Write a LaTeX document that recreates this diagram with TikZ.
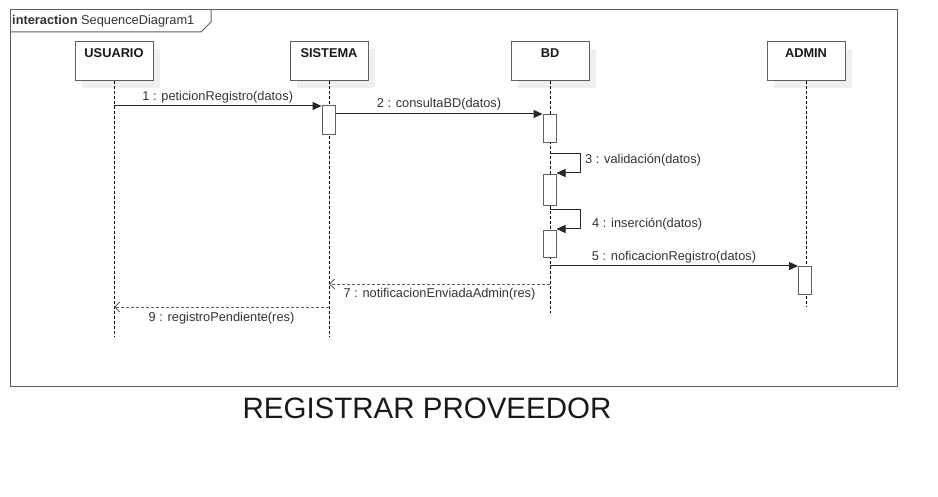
\documentclass[tikz,border=0pt]{standalone}
\usepackage{fontspec}
\setmainfont{Liberation Sans}
\usetikzlibrary{arrows.meta,positioning,calc,shadows}
\definecolor{linegray}{HTML}{5F5F5F}
\definecolor{txtgray}{HTML}{333333}
\definecolor{shadowgray}{HTML}{EFEFEF}

\begin{document}
\begin{tikzpicture}[x=1pt, y=-1pt,
    frame/.style={draw=linegray, line width=1pt},
    head/.style={rectangle, draw=linegray, fill=white, line width=1pt, minimum width=78pt, minimum height=39pt,
        drop shadow={shadow xshift=7pt, shadow yshift=-7pt, fill=shadowgray, opacity=1}},
    headtxt/.style={font=\fontsize{12.8}{14}\selectfont\bfseries, text=black!90},
    act/.style={rectangle, draw=linegray, fill=white, line width=1pt, minimum width=13pt, anchor=north},
    lifeline/.style={draw=black, line width=0.8pt, dash pattern=on 3pt off 2pt},
    msg/.style={draw=linegray, line width=1pt, -{Triangle[length=9pt, width=8pt]}, black!85},
    reply/.style={draw=linegray, line width=0.9pt, dash pattern=on 3pt off 2pt, -{Straight Barb[length=5pt, width=10pt]}},
    lbl/.style={font=\fontsize{12.8}{14}\selectfont, text=txtgray, inner sep=2pt}
]
\useasboundingbox (0,0) rectangle (938,497);

% Frame
\draw[frame] (10,10) rectangle (897,386);
\draw[frame] (10,32) -- (201,32) -- (211,22) -- (211,10);
\node[lbl, anchor=west, inner sep=0pt] (tab) at (12,21) {\textbf{interaction} SequenceDiagram1};

% Lifelines
\node[head, label={[headtxt, anchor=north, yshift=-4pt]north:USUARIO}] (usr) at (114,61.5) {};
\node[head, label={[headtxt, anchor=north, yshift=-4pt]north:SISTEMA}] (sis) at (329,61.5) {};
\node[head, label={[headtxt, anchor=north, yshift=-4pt]north:BD}] (bd) at (550,61.5) {};
\node[head, label={[headtxt, anchor=north, yshift=-4pt]north:ADMIN}] (adm) at (806,61.5) {};

\coordinate (usrEnd) at (114,337);
\coordinate (sisEnd) at (329,337);
\coordinate (bdEnd) at (550,313);
\coordinate (admEnd) at (806,307);
\draw[lifeline] (usr.south) -- (usrEnd);
\draw[lifeline] (sis.south) -- (sisEnd);
\draw[lifeline] (bd.south) -- (bdEnd);
\draw[lifeline] (adm.south) -- (admEnd);

% Activations
\node[act, minimum height=29pt] (actS) at (328.5,105) {};
\node[act, minimum height=28pt] (actB1) at (549.5,114) {};
\node[act, minimum height=31pt] (actB2) at (549.5,174) {};
\node[act, minimum height=27pt] (actB3) at (549.5,230) {};
\node[act, minimum height=28pt] (actA) at (805,266) {};

% Messages
\coordinate (m1) at (114,106);
\draw[msg] (m1) -- node[lbl, above] {1 : peticionRegistro(datos)} (m1 -| actS.west);

\coordinate (m2) at (335,114);
\draw[msg] (actS.east |- m2) -- node[lbl, above, yshift=1pt] {2 : consultaBD(datos)} (actB1.west |- m2);

\coordinate (m3) at (550,154);
\draw[msg] (m3) -- ++(30,0) -- ++(0,19) -- (actB2.east |- 0,173);
\node[lbl, anchor=west] (l3) at (583,160) {3 : validación(datos)};

\coordinate (m4) at (550,210);
\draw[msg] (m4) -- ++(30,0) -- ++(0,19) -- (actB3.east |- 0,229);
\node[lbl, anchor=west] (l4) at (590,224) {4 : inserción(datos)};

\coordinate (m5) at (550,266);
\draw[msg] (m5) -- node[lbl, above] {5 : noficacionRegistro(datos)} (actA.north west);

% Replies
\coordinate (r7) at (550,284);
\draw[reply] (r7) -- node[lbl, below, yshift=-2pt] {7 : notificacionEnviadaAdmin(res)} (r7 -| sisEnd);

\coordinate (r9) at (329,307);
\draw[reply] (r9) -- node[lbl, below, yshift=-3pt] {9 : registroPendiente(res)} (r9 -| usrEnd);

% Title
\node[font=\fontsize{29.5}{34}\selectfont, text=black!90] (title) at (427,408) {REGISTRAR PROVEEDOR};

\end{tikzpicture}
\end{document}
